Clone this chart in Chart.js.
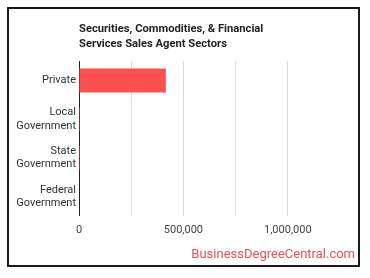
<!DOCTYPE html>
<html>
<head>
<meta charset="utf-8">
<script src="https://cdn.jsdelivr.net/npm/chart.js@4/dist/chart.umd.min.js"></script>
<style>
  html, body { margin: 0; padding: 0; background: #fff; }
  #wrap { width: 370px; height: 278px; position: relative; }
</style>
</head>
<body>
<div id="wrap"><canvas id="sectorChart" width="370" height="278"></canvas></div>
<script>
const sectors = [
  "Private",
  ["Local", "Government"],
  ["State", "Government"],
  ["Federal", "Government"],
];
const employment = [416000, 4000, 300, 0];
const tickStep = 250000;
const axisMax = 1250000;
const labelledTicks = [0, 500000, 1000000];

// frame + site credit drawn straight on the canvas
const frame = {
  id: "frame",
  afterDraw(chart) {
    const ctx = chart.ctx;
    ctx.save();
    ctx.strokeStyle = "#1a1a1a";
    ctx.lineWidth = 2;
    ctx.strokeRect(8, 8, 351, 258);
    ctx.fillStyle = "#e8505b";
    ctx.font = "13px Roboto";
    ctx.textAlign = "right";
    ctx.textBaseline = "middle";
    ctx.fillText("BusinessDegreeCentral.com", 355, 255);
    ctx.restore();
  },
};

new Chart(document.getElementById("sectorChart"), {
  type: "bar",
  data: {
    labels: sectors,
    datasets: [
      {
        data: employment,
        backgroundColor: "#ff5050",
        barPercentage: 0.62,
        categoryPercentage: 1,
      },
    ],
  },
  options: {
    indexAxis: "y",
    responsive: false,
    animation: false,
    layout: { padding: { left: 8, right: 30, top: 0, bottom: 33 } },
    plugins: {
      legend: { display: false },
      tooltip: { enabled: false },
      title: {
        display: true,
        fullSize: false,
        align: "start",
        text: ["Securities, Commodities, & Financial", "Services Sales Agent Sectors"],
        color: "#222",
        font: { family: "Roboto", size: 11.2, weight: "bold", lineHeight: 1.35 },
        padding: { top: 22, bottom: 9 },
      },
    },
    scales: {
      x: {
        min: 0,
        max: axisMax,
        ticks: {
          stepSize: tickStep,
          padding: 8,
          maxRotation: 0,
          autoSkip: false,
          color: "#444",
          font: { family: "Roboto", size: 11 },
          callback: (v) => (labelledTicks.includes(v) ? v.toLocaleString("en-US") : ""),
        },
        grid: {
          drawTicks: false,
          color: (c) => (c.tick && c.tick.value >= axisMax ? "rgba(0,0,0,0)" : "#dddddd"),
        },
        border: { display: false },
      },
      y: {
        ticks: {
          padding: 3,
          color: "#333",
          font: { family: "Roboto", size: 11 },
        },
        grid: { display: false, drawTicks: false },
        border: { display: true, color: "#222", width: 1 },
        afterFit: (scale) => {
          scale.width = 71;
        },
      },
    },
  },
  plugins: [frame],
});
</script>
</body>
</html>
